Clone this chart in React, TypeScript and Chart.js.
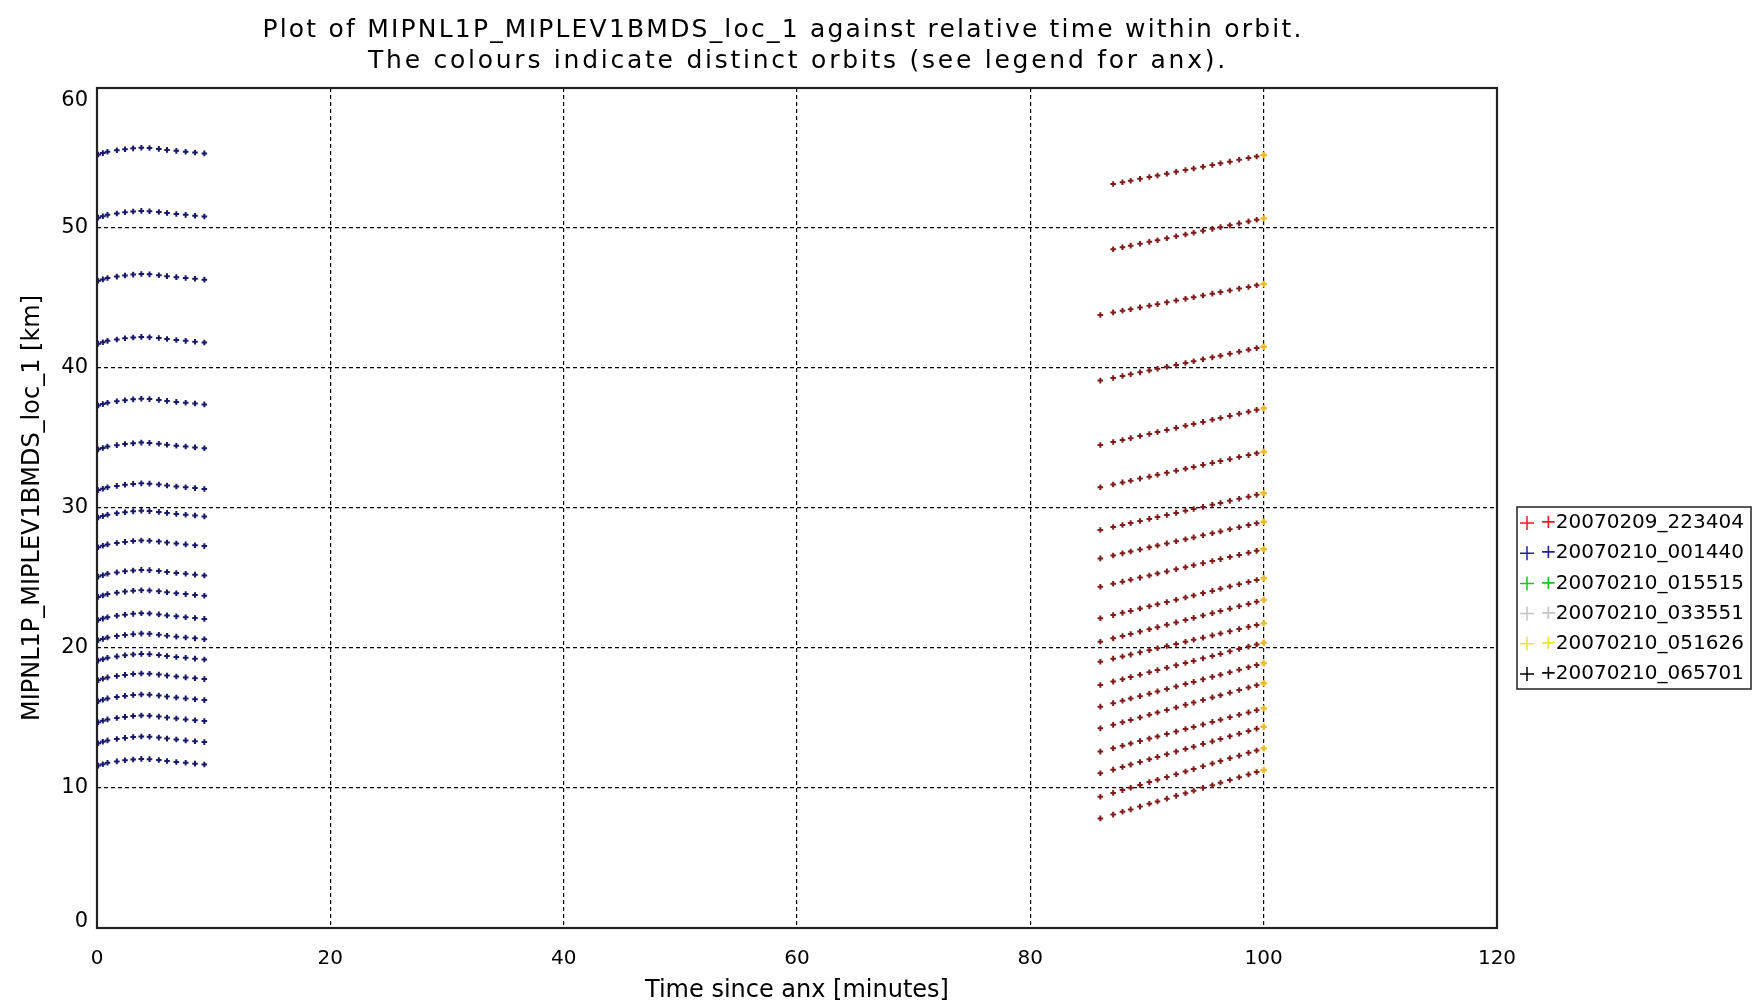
import React, { useEffect, useRef } from 'react';
import { Chart, registerables } from 'chart.js';

Chart.register(...registerables);

const titleLines = [
  'Plot of MIPNL1P_MIPLEV1BMDS_loc_1 against relative time within orbit.',
  'The colours indicate distinct orbits (see legend for anx).',
];
const xAxisTitle = 'Time since anx [minutes]';
const yAxisTitle = 'MIPNL1P_MIPLEV1BMDS_loc_1 [km]';

const orbitLabels = [
  '+20070209_223404',
  '+20070210_001440',
  '+20070210_015515',
  '+20070210_033551',
  '+20070210_051626',
  '+20070210_065701',
];
const orbitColors = ['#e02020', '#2020a0', '#22c022', '#c4c4c4', '#f0e040', '#000000'];
const markColors = ['#7e1c1c', '#18186a', '#22c022', '#c4c4c4', '#f0b830', '#000000'];

const xMin = 0;
const xMax = 120;
const xStep = 20;
const yMin = 0;
const yMax = 60;
const yStep = 10;

// Orbit 2 (blue): samples near the start of the orbit (minutes)
const blueTimes = [0.1, 0.5, 0.9, 1.7, 2.4, 3.1, 3.8, 4.5, 5.3, 6.0, 6.8, 7.6, 8.4, 9.2];
const blueRows = [
  [55.25, 55.35, 55.45, 55.55, 55.63, 55.69, 55.73, 55.71, 55.65, 55.58, 55.51, 55.45, 55.39, 55.33],
  [50.74, 50.84, 50.94, 51.04, 51.12, 51.18, 51.22, 51.2, 51.14, 51.07, 51.0, 50.94, 50.88, 50.82],
  [46.23, 46.33, 46.43, 46.53, 46.61, 46.67, 46.71, 46.69, 46.63, 46.56, 46.49, 46.43, 46.37, 46.31],
  [41.74, 41.84, 41.94, 42.04, 42.12, 42.18, 42.22, 42.2, 42.14, 42.07, 42.0, 41.94, 41.88, 41.82],
  [37.32, 37.42, 37.52, 37.62, 37.7, 37.76, 37.8, 37.78, 37.72, 37.65, 37.58, 37.52, 37.46, 37.4],
  [34.19, 34.29, 34.39, 34.49, 34.57, 34.63, 34.67, 34.65, 34.59, 34.52, 34.45, 34.39, 34.33, 34.27],
  [31.28, 31.38, 31.48, 31.58, 31.66, 31.72, 31.76, 31.74, 31.68, 31.61, 31.54, 31.48, 31.42, 31.36],
  [29.32, 29.42, 29.52, 29.62, 29.7, 29.76, 29.8, 29.78, 29.72, 29.65, 29.58, 29.52, 29.46, 29.4],
  [27.2, 27.3, 27.4, 27.5, 27.58, 27.64, 27.68, 27.66, 27.6, 27.53, 27.46, 27.4, 27.34, 27.28],
  [25.1, 25.2, 25.3, 25.4, 25.48, 25.54, 25.58, 25.56, 25.5, 25.43, 25.36, 25.3, 25.24, 25.18],
  [23.65, 23.75, 23.85, 23.95, 24.03, 24.09, 24.13, 24.11, 24.05, 23.98, 23.91, 23.85, 23.79, 23.73],
  [22.0, 22.1, 22.2, 22.3, 22.38, 22.44, 22.48, 22.46, 22.4, 22.33, 22.26, 22.2, 22.14, 22.08],
  [20.55, 20.65, 20.75, 20.85, 20.93, 20.99, 21.03, 21.01, 20.95, 20.88, 20.81, 20.75, 20.69, 20.63],
  [19.1, 19.2, 19.3, 19.4, 19.48, 19.54, 19.58, 19.56, 19.5, 19.43, 19.36, 19.3, 19.24, 19.18],
  [17.7, 17.8, 17.9, 18.0, 18.08, 18.14, 18.18, 18.16, 18.1, 18.03, 17.96, 17.9, 17.84, 17.78],
  [16.2, 16.3, 16.4, 16.5, 16.58, 16.64, 16.68, 16.66, 16.6, 16.53, 16.46, 16.4, 16.34, 16.28],
  [14.7, 14.8, 14.9, 15.0, 15.08, 15.14, 15.18, 15.16, 15.1, 15.03, 14.96, 14.9, 14.84, 14.78],
  [13.2, 13.3, 13.4, 13.5, 13.58, 13.64, 13.68, 13.66, 13.6, 13.53, 13.46, 13.4, 13.34, 13.28],
  [11.6, 11.7, 11.8, 11.9, 11.98, 12.04, 12.08, 12.06, 12.0, 11.93, 11.86, 11.8, 11.74, 11.68],
];

// Orbit 1 (red): samples near the end of the orbit (minutes)
const redTimes = [86.0, 87.1, 87.9, 88.6, 89.4, 90.2, 90.9, 91.7, 92.5, 93.3, 94.0, 94.8, 95.6, 96.3, 97.1, 97.9, 98.7, 99.4];
const redRows: (number | null)[][] = [
  [null, 53.14, 53.27, 53.38, 53.51, 53.64, 53.75, 53.88, 54.01, 54.14, 54.25, 54.38, 54.5, 54.62, 54.74, 54.87, 55.0, 55.11],
  [null, 48.48, 48.62, 48.74, 48.87, 49.01, 49.13, 49.27, 49.41, 49.54, 49.66, 49.8, 49.94, 50.06, 50.19, 50.33, 50.47, 50.59],
  [43.79, 43.97, 44.09, 44.2, 44.33, 44.45, 44.56, 44.69, 44.82, 44.94, 45.05, 45.18, 45.31, 45.42, 45.54, 45.67, 45.79, 45.91],
  [39.1, 39.29, 39.43, 39.55, 39.69, 39.83, 39.95, 40.09, 40.22, 40.36, 40.48, 40.62, 40.76, 40.88, 41.02, 41.16, 41.3, 41.42],
  [34.5, 34.71, 34.86, 34.99, 35.14, 35.29, 35.42, 35.57, 35.72, 35.87, 36.0, 36.15, 36.3, 36.43, 36.58, 36.73, 36.88, 37.01],
  [31.48, 31.68, 31.83, 31.95, 32.1, 32.24, 32.37, 32.51, 32.66, 32.8, 32.93, 33.08, 33.22, 33.35, 33.49, 33.64, 33.78, 33.91],
  [28.43, 28.64, 28.79, 28.92, 29.07, 29.22, 29.35, 29.5, 29.65, 29.8, 29.93, 30.08, 30.23, 30.36, 30.51, 30.66, 30.81, 30.94],
  [26.4, 26.61, 26.76, 26.89, 27.04, 27.19, 27.32, 27.47, 27.62, 27.77, 27.9, 28.05, 28.2, 28.33, 28.48, 28.63, 28.78, 28.91],
  [24.38, 24.59, 24.74, 24.88, 25.03, 25.18, 25.32, 25.47, 25.62, 25.77, 25.91, 26.06, 26.21, 26.35, 26.5, 26.65, 26.8, 26.94],
  [22.12, 22.35, 22.51, 22.65, 22.82, 22.98, 23.12, 23.28, 23.45, 23.61, 23.75, 23.92, 24.08, 24.23, 24.39, 24.55, 24.71, 24.86],
  [20.45, 20.69, 20.86, 21.0, 21.17, 21.34, 21.49, 21.66, 21.83, 22.0, 22.15, 22.32, 22.49, 22.64, 22.81, 22.98, 23.15, 23.3],
  [19.02, 19.24, 19.39, 19.53, 19.69, 19.84, 19.98, 20.14, 20.29, 20.45, 20.59, 20.74, 20.9, 21.04, 21.19, 21.35, 21.51, 21.64],
  [17.36, 17.6, 17.77, 17.92, 18.09, 18.27, 18.42, 18.59, 18.76, 18.93, 19.08, 19.26, 19.43, 19.58, 19.76, 19.93, 20.1, 20.25],
  [15.81, 16.06, 16.23, 16.39, 16.56, 16.74, 16.9, 17.07, 17.25, 17.43, 17.58, 17.76, 17.94, 18.09, 18.27, 18.45, 18.62, 18.78],
  [14.26, 14.51, 14.7, 14.86, 15.04, 15.23, 15.39, 15.57, 15.75, 15.94, 16.1, 16.29, 16.47, 16.63, 16.81, 17.0, 17.18, 17.34],
  [12.6, 12.84, 13.02, 13.18, 13.35, 13.53, 13.68, 13.86, 14.03, 14.21, 14.36, 14.54, 14.72, 14.87, 15.05, 15.23, 15.4, 15.56],
  [11.05, 11.31, 11.5, 11.67, 11.86, 12.05, 12.22, 12.41, 12.6, 12.79, 12.95, 13.15, 13.33, 13.5, 13.69, 13.88, 14.07, 14.24],
  [9.38, 9.65, 9.85, 10.02, 10.22, 10.42, 10.59, 10.78, 10.98, 11.18, 11.35, 11.55, 11.75, 11.92, 12.12, 12.31, 12.51, 12.68],
  [7.83, 8.1, 8.3, 8.47, 8.67, 8.87, 9.04, 9.24, 9.44, 9.63, 9.81, 10.01, 10.2, 10.38, 10.57, 10.77, 10.97, 11.14],
];

// Orbit 5 (yellow): one sample per level at the orbit boundary
const yellowTime = 100.0;
const yellowValues = [55.21, 50.69, 46.0, 41.52, 37.12, 34.02, 31.05, 29.02, 27.05, 24.98, 23.43, 21.76, 20.38, 18.91, 17.48, 15.69, 14.38, 12.83, 11.29];

const greenValues: { x: number; y: number }[] = [];
const grayValues: { x: number; y: number }[] = [];
const blackValues: { x: number; y: number }[] = [];

function rowsToPoints(times: number[], rows: (number | null)[][]) {
  const pts: { x: number; y: number }[] = [];
  rows.forEach((row) => {
    row.forEach((v, i) => {
      if (v !== null) pts.push({ x: times[i], y: v });
    });
  });
  return pts;
}

const FONT = "'DejaVu Sans', sans-serif";

const titlePlugin = {
  id: 'idlTitle',
  afterDraw(chart: any) {
    const { ctx, chartArea } = chart;
    const cx = (chartArea.left + chartArea.right) / 2;
    ctx.save();
    ctx.fillStyle = '#000';
    ctx.font = `25px ${FONT}`;
    ctx.textAlign = 'center';
    ctx.textBaseline = 'middle';
    (ctx as any).letterSpacing = '2.2px';
    ctx.fillText(titleLines[0], cx - 14, 30);
    (ctx as any).letterSpacing = '2.75px';
    ctx.fillText(titleLines[1], cx + 1, 61);
    ctx.restore();
  },
};

const framePlugin = {
  id: 'idlFrame',
  afterDraw(chart: any) {
    const { ctx, chartArea } = chart;
    ctx.save();
    ctx.strokeStyle = '#222';
    ctx.lineWidth = 2.2;
    ctx.strokeRect(chartArea.left, chartArea.top, chartArea.right - chartArea.left, chartArea.bottom - chartArea.top);
    ctx.restore();
  },
};

const legendPlugin = {
  id: 'idlLegend',
  afterDraw(chart: any) {
    const { ctx, chartArea } = chart;
    const boxLeft = chartArea.right + 20;
    const boxTop = chartArea.top + 419;
    const rowH = 30.2;
    const n = chart.data.datasets.length;
    const boxW = 234;
    const boxH = 182;
    ctx.save();
    ctx.strokeStyle = '#222';
    ctx.lineWidth = 1.5;
    ctx.strokeRect(boxLeft, boxTop, boxW, boxH);
    ctx.font = `20px ${FONT}`;
    ctx.textBaseline = 'middle';
    ctx.textAlign = 'left';
    for (let i = 0; i < n; i++) {
      const ds = chart.data.datasets[i];
      const y = boxTop + 16 + i * rowH;
      const color = orbitColors[i];
      ctx.strokeStyle = color;
      ctx.lineWidth = 1.5;
      ctx.beginPath();
      ctx.moveTo(boxLeft + 3, y);
      ctx.lineTo(boxLeft + 17, y);
      ctx.moveTo(boxLeft + 10, y - 7);
      ctx.lineTo(boxLeft + 10, y + 7);
      ctx.stroke();
      const label: string = ds.label;
      const plus = label.slice(0, 1);
      const rest = label.slice(1);
      const tx = boxLeft + 23;
      ctx.fillStyle = color;
      ctx.fillText(plus, tx, y);
      const w = ctx.measureText(plus).width;
      ctx.fillStyle = '#000';
      ctx.fillText(rest, tx + w - 1, y);
    }
    ctx.restore();
  },
};

export default function App() {
  const canvasRef = useRef<HTMLCanvasElement | null>(null);

  useEffect(() => {
    if (!canvasRef.current) return;
    Chart.defaults.font.family = FONT;
    const yellowPoints = yellowValues.map((v) => ({ x: yellowTime, y: v }));
    const datasetValues = [
      rowsToPoints(redTimes, redRows),
      rowsToPoints(blueTimes, blueRows),
      greenValues,
      grayValues,
      yellowPoints,
      blackValues,
    ];
    const chart = new Chart(canvasRef.current, {
      type: 'scatter',
      data: {
        datasets: orbitLabels.map((label, i) => ({
          label,
          data: datasetValues[i],
          showLine: false,
          pointStyle: 'cross',
          pointRadius: i === 4 ? 3.2 : 2.8,
          pointBorderWidth: i === 4 ? 2.4 : 2,
          borderColor: markColors[i],
          backgroundColor: markColors[i],
          pointHoverRadius: 0,
        })),
      },
      options: {
        responsive: true,
        maintainAspectRatio: false,
        animation: false,
        events: [],
        layout: { padding: { top: 88, right: 266, left: 0, bottom: 0 } },
        plugins: {
          legend: { display: false },
          title: { display: false },
          tooltip: { enabled: false },
        },
        scales: {
          x: {
            type: 'linear',
            min: xMin,
            max: xMax,
            afterFit: (scale: any) => {
              scale.height = 77;
            },
            ticks: {
              stepSize: xStep,
              color: '#000',
              padding: 19,
              font: { size: 20, family: FONT },
              maxRotation: 0,
            },
            grid: {
              color: '#000',
              lineWidth: 1.2,
              drawTicks: false,
            },
            border: { display: false, dash: [4, 3] },
            title: {
              display: true,
              text: xAxisTitle,
              color: '#000',
              font: { size: 24, family: FONT },
              padding: { top: 0, bottom: 0 },
            },
          },
          y: {
            type: 'linear',
            min: yMin,
            max: yMax,
            afterFit: (scale: any) => {
              scale.width = 97;
            },
            ticks: {
              stepSize: yStep,
              color: '#000',
              padding: 9,
              font: (c: any) => ({
                size: 21,
                family: FONT,
                lineHeight: c.tick && c.tick.value === yMin ? 0.62 : 1.2,
              }),
              // IDL keeps the end labels inside the axis range
              callback: (value: any) => {
                const s = String(value);
                if (value === yMax) return ['', s];
                if (value === yMin) return [s, ''];
                return s;
              },
            },
            grid: {
              color: '#000',
              lineWidth: 1.2,
              drawTicks: false,
            },
            border: { display: false, dash: [4, 3] },
            title: {
              display: true,
              text: yAxisTitle,
              color: '#000',
              font: { size: 24, family: FONT },
              padding: { top: 18, bottom: 0 },
            },
          },
        },
      },
      plugins: [titlePlugin, framePlugin, legendPlugin],
    } as any);
    return () => chart.destroy();
  }, []);

  return (
    <div style={{ position: 'fixed', left: 0, top: 0, width: 1763, height: 1005, background: '#fff' }}>
      <canvas ref={canvasRef} />
    </div>
  );
}
